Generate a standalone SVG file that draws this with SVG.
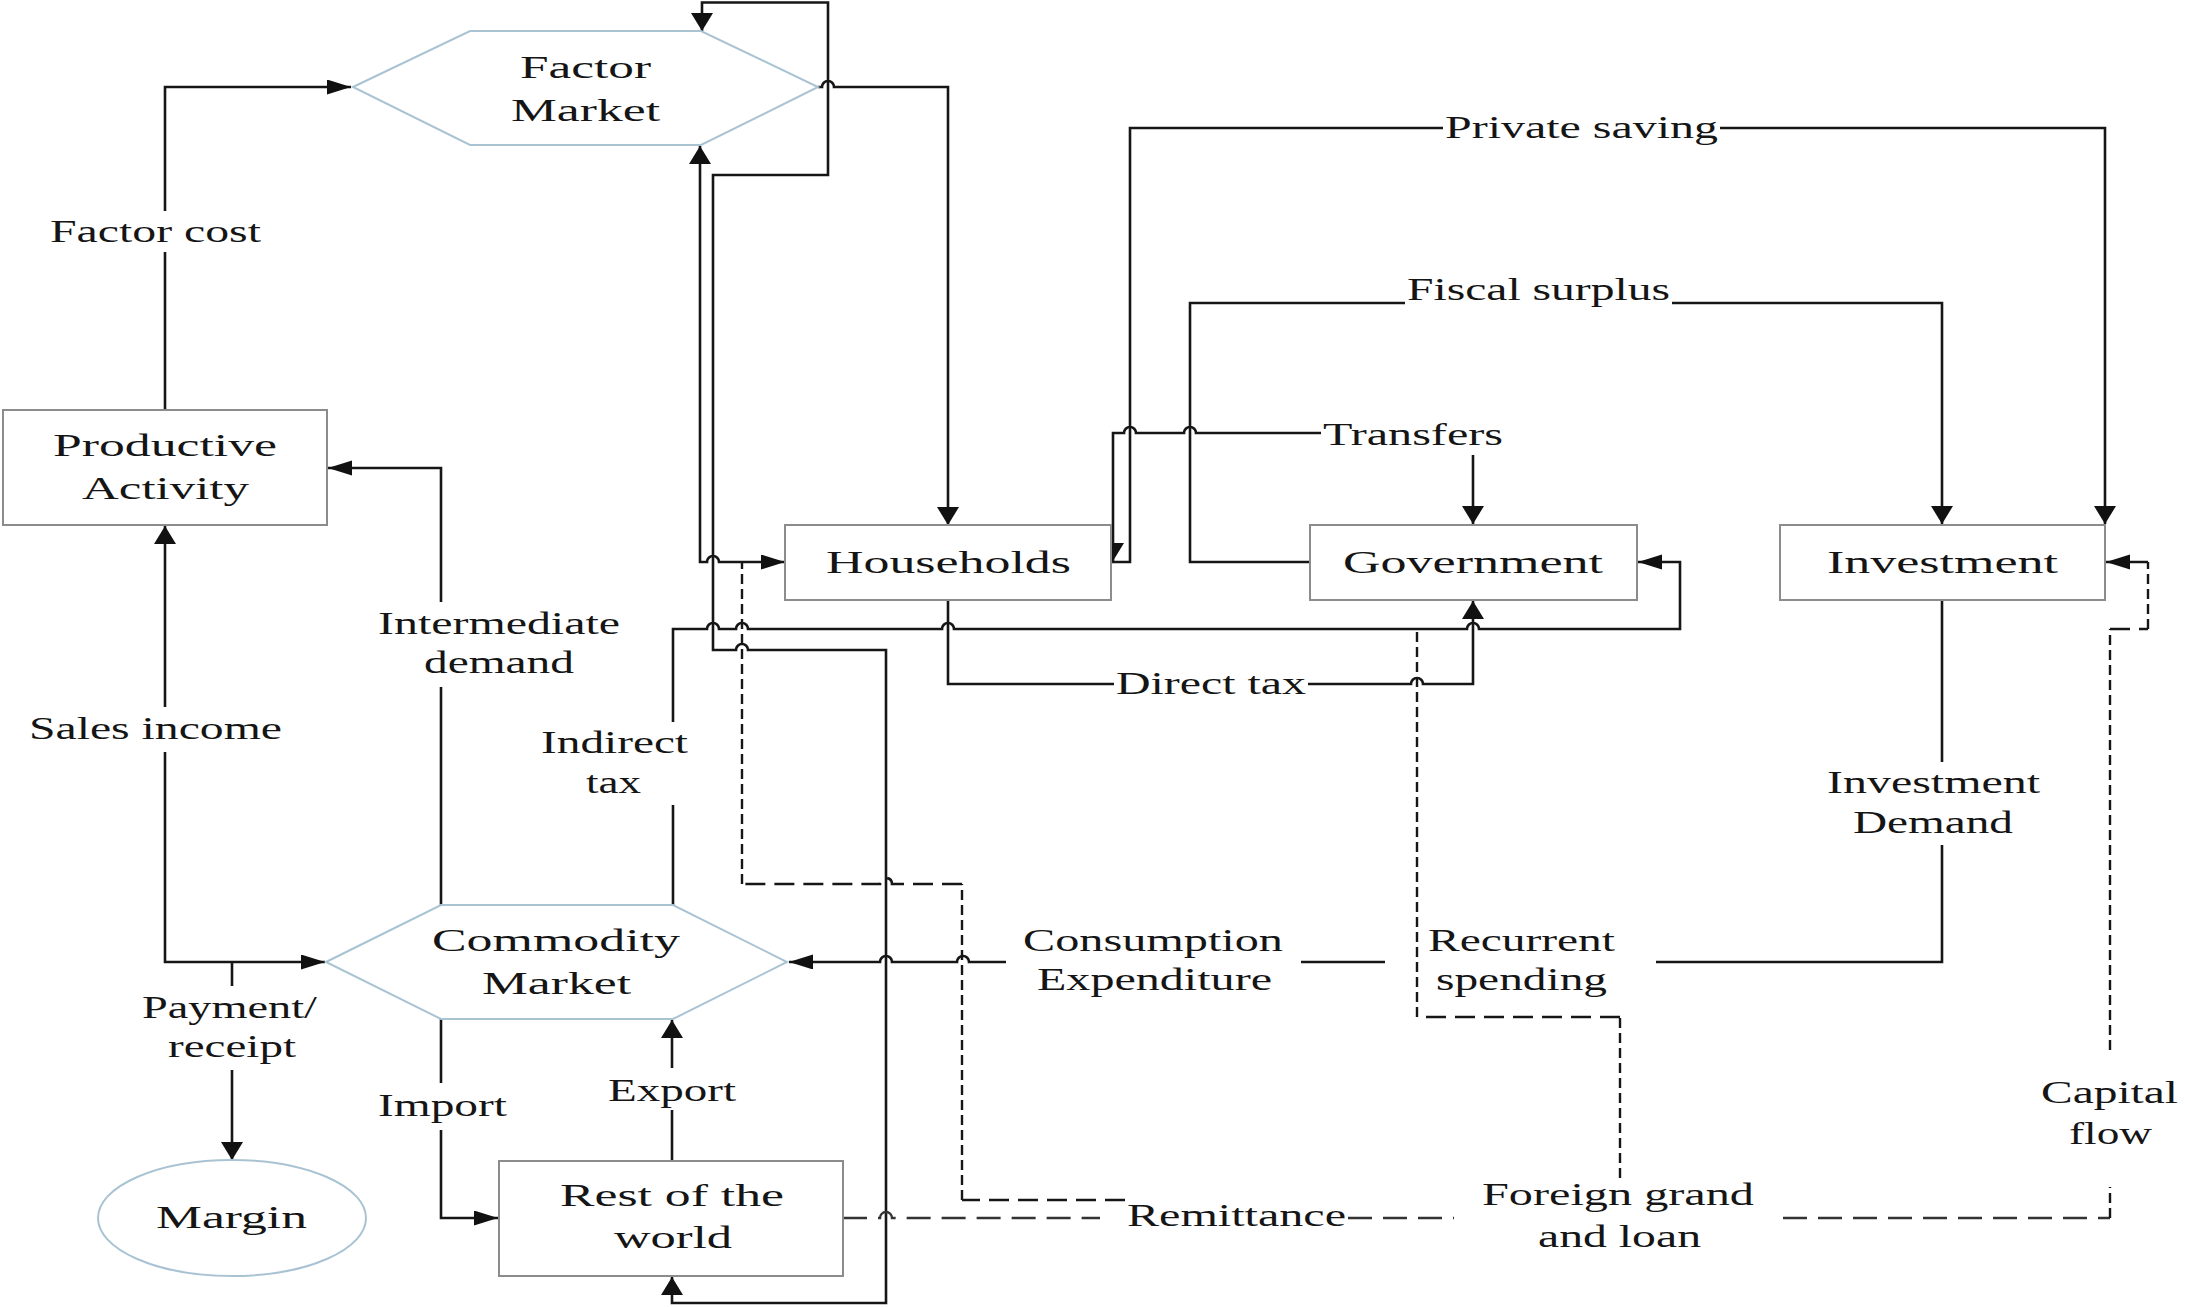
<svg xmlns="http://www.w3.org/2000/svg" width="2185" height="1307" viewBox="0 0 2185 1307">
<style>
.box{fill:#fff;stroke:#8c8c8c;stroke-width:2}
.hex{fill:#fff;stroke:#a9c3d3;stroke-width:2}
.ln{fill:none;stroke:#161616;stroke-width:2.6}
.dh{fill:none;stroke:#161616;stroke-width:2.6;stroke-dasharray:20 9}
.dv{fill:none;stroke:#161616;stroke-width:2.4;stroke-dasharray:10 5}
.dr{fill:none;stroke:#333;stroke-width:2.4;stroke-dasharray:24 11}
text{font-family:"Liberation Serif","Times New Roman",serif;font-size:31px;fill:#151515}
</style>
<defs>
<marker id="ah" markerUnits="userSpaceOnUse" markerWidth="26" markerHeight="17" refX="24" refY="7.5" orient="auto-start-reverse"><path d="M0,0 L24,7.5 L0,15 z" fill="#111"/></marker>
<marker id="av" markerUnits="userSpaceOnUse" markerWidth="20" markerHeight="24" refX="18" refY="11" orient="auto-start-reverse"><path d="M0,0 L18,11 L0,22 z" fill="#111"/></marker>
</defs>
<rect width="2185" height="1307" fill="#fff"/>

<g id="connectors">
<!-- Factor cost -->
<path class="ln" d="M165,410 L165,252"/>
<path class="ln" d="M165,211 L165,87 L351,87" marker-end="url(#ah)"/>
<text x="50" y="242" textLength="211" lengthAdjust="spacingAndGlyphs">Factor cost</text>
<!-- Factor market to households -->
<path class="ln" d="M818,87 L822,87 A6,6 0 0 1 834,87 L948,87 L948,525" marker-end="url(#av)"/>
<!-- Factor market <-> rest of world loop -->
<path class="ln" d="M702,31 L702,2.5 L828,2.5 L828,175 L713,175 L713,650 L736,650 A6,6 0 0 1 748,650 L886,650 L886,1303 L672,1303 L672,1277" marker-start="url(#av)" marker-end="url(#av)"/>
<!-- Households <-> Factor market -->
<path class="ln" d="M700,146 L700,562 L707,562 A6,6 0 0 1 719,562 L785,562" marker-start="url(#av)" marker-end="url(#ah)"/>
<!-- Intermediate demand -->
<path class="ln" d="M441,905 L441,687"/>
<path class="ln" d="M441,602 L441,468 L328,468" marker-end="url(#ah)"/>
<text x="378" y="634" textLength="242" lengthAdjust="spacingAndGlyphs">Intermediate</text>
<text x="424" y="673" textLength="150" lengthAdjust="spacingAndGlyphs">demand</text>
<!-- Sales income -->
<path class="ln" d="M165,707 L165,526" marker-end="url(#av)"/>
<path class="ln" d="M165,752 L165,962 L325,962" marker-end="url(#ah)"/>
<text x="29" y="739" textLength="253" lengthAdjust="spacingAndGlyphs">Sales income</text>
<!-- Payment/receipt -->
<path class="ln" d="M232,962 L232,986"/>
<path class="ln" d="M232,1070 L232,1160" marker-end="url(#av)"/>
<text x="142" y="1018" textLength="175" lengthAdjust="spacingAndGlyphs">Payment/</text>
<text x="168" y="1057" textLength="128" lengthAdjust="spacingAndGlyphs">receipt</text>
<!-- Import -->
<path class="ln" d="M441,1019 L441,1083"/>
<path class="ln" d="M441,1130 L441,1218 L498,1218" marker-end="url(#ah)"/>
<text x="378" y="1116" textLength="129" lengthAdjust="spacingAndGlyphs">Import</text>
<!-- Export -->
<path class="ln" d="M672,1161 L672,1110"/>
<path class="ln" d="M672,1068 L672,1020" marker-end="url(#av)"/>
<text x="608" y="1101" textLength="128" lengthAdjust="spacingAndGlyphs">Export</text>
<!-- Indirect tax -->
<path class="ln" d="M673,905 L673,805"/>
<path class="ln" d="M673,722 L673,629 L707,629 A6,6 0 0 1 719,629 L736,629 A6,6 0 0 1 748,629 L942,629 A6,6 0 0 1 954,629 L1467,629 A6,6 0 0 1 1479,629 L1680,629 L1680,562 L1638,562" marker-end="url(#ah)"/>
<text x="541" y="753" textLength="147" lengthAdjust="spacingAndGlyphs">Indirect</text>
<text x="586" y="793" textLength="55" lengthAdjust="spacingAndGlyphs">tax</text>
<!-- Direct tax -->
<path class="ln" d="M948,600 L948,684 L1114,684"/>
<path class="ln" d="M1308,684 L1411,684 A6,6 0 0 1 1423,684 L1473,684 L1473,601" marker-end="url(#av)"/>
<text x="1116" y="694" textLength="190" lengthAdjust="spacingAndGlyphs">Direct tax</text>
<!-- Transfers -->
<path class="ln" d="M1321,433 L1196,433 A6,6 0 0 0 1184,433 L1136,433 A6,6 0 0 0 1124,433 L1113,433 L1113,561" marker-end="url(#av)"/>
<path class="ln" d="M1473,455 L1473,524" marker-end="url(#av)"/>
<text x="1323" y="445" textLength="180" lengthAdjust="spacingAndGlyphs">Transfers</text>
<!-- Private saving -->
<path class="ln" d="M1111,562 L1130,562 L1130,128 L1443,128"/>
<path class="ln" d="M1720,128 L2105,128 L2105,524" marker-end="url(#av)"/>
<text x="1445" y="138" textLength="273" lengthAdjust="spacingAndGlyphs">Private saving</text>
<!-- Fiscal surplus -->
<path class="ln" d="M1310,562 L1190,562 L1190,303 L1405,303"/>
<path class="ln" d="M1672,303 L1942,303 L1942,524" marker-end="url(#av)"/>
<text x="1407" y="300" textLength="263" lengthAdjust="spacingAndGlyphs">Fiscal surplus</text>
<!-- Investment demand / consumption / recurrent spending -->
<path class="ln" d="M1942,600 L1942,762"/>
<path class="ln" d="M1942,845 L1942,962 L1656,962"/>
<path class="ln" d="M1385,962 L1301,962"/>
<path class="ln" d="M1006,962 L969,962 A6,6 0 0 0 957,962 L892,962 A6,6 0 0 0 880,962 L789,962" marker-end="url(#ah)"/>
<text x="1827" y="793" textLength="213" lengthAdjust="spacingAndGlyphs">Investment</text>
<text x="1853" y="833" textLength="160" lengthAdjust="spacingAndGlyphs">Demand</text>
<text x="1023" y="951" textLength="260" lengthAdjust="spacingAndGlyphs">Consumption</text>
<text x="1037" y="990" textLength="235" lengthAdjust="spacingAndGlyphs">Expenditure</text>
<text x="1428" y="951" textLength="187" lengthAdjust="spacingAndGlyphs">Recurrent</text>
<text x="1436" y="990" textLength="171" lengthAdjust="spacingAndGlyphs">spending</text>
<!-- Remittance (dashed) -->
<path class="dh" d="M1125,1200 L962,1200"/>
<path class="dv" d="M962,1200 L962,884"/>
<path class="dh" d="M962,884 L892,884 A6,6 0 0 0 880,884 L742,884"/>
<path class="dv" d="M742,884 L742,562"/>
<!-- Rest of world to investment, capital flow (dashed) -->
<path class="dr" d="M843,1218 L880,1218 A6,6 0 0 1 892,1218 L1100,1218"/>
<path class="dr" d="M1348,1218 L1454,1218"/>
<path class="dr" d="M1783,1218 L2110,1218"/>
<path class="dv" d="M2110,1218 L2110,1187"/>
<path class="dv" d="M2110,1050 L2110,629"/>
<path class="dh" d="M2110,629 L2148,629"/>
<path class="dv" d="M2148,629 L2148,562"/>
<path class="dh" d="M2148,562 L2106,562" marker-end="url(#ah)"/>
<text x="1127" y="1226" textLength="219" lengthAdjust="spacingAndGlyphs">Remittance</text>
<text x="2041" y="1103" textLength="137" lengthAdjust="spacingAndGlyphs">Capital</text>
<text x="2069" y="1144" textLength="83" lengthAdjust="spacingAndGlyphs">flow</text>
<!-- Foreign grand and loan (dashed) -->
<path class="dv" d="M1620,1178 L1620,1017"/>
<path class="dh" d="M1620,1017 L1417,1017"/>
<path class="dv" d="M1417,1017 L1417,630"/>
<text x="1482" y="1205" textLength="272" lengthAdjust="spacingAndGlyphs">Foreign grand</text>
<text x="1538" y="1247" textLength="163" lengthAdjust="spacingAndGlyphs">and loan</text>
</g>

<g id="factor-market">
<polygon class="hex" points="353,87 470,31 701,31 818,87 701,145 470,145"/>
<text x="520" y="78" textLength="131" lengthAdjust="spacingAndGlyphs">Factor</text>
<text x="511" y="121" textLength="149" lengthAdjust="spacingAndGlyphs">Market</text>
</g>
<g id="productive-activity">
<rect class="box" x="3" y="410" width="324" height="115"/>
<text x="53" y="456" textLength="224" lengthAdjust="spacingAndGlyphs">Productive</text>
<text x="82" y="499" textLength="167" lengthAdjust="spacingAndGlyphs">Activity</text>
</g>
<g id="households">
<rect class="box" x="785" y="525" width="326" height="75"/>
<text x="826" y="573" textLength="245" lengthAdjust="spacingAndGlyphs">Households</text>
</g>
<g id="government">
<rect class="box" x="1310" y="525" width="327" height="75"/>
<text x="1343" y="573" textLength="260" lengthAdjust="spacingAndGlyphs">Government</text>
</g>
<g id="investment">
<rect class="box" x="1780" y="525" width="325" height="75"/>
<text x="1827" y="573" textLength="231" lengthAdjust="spacingAndGlyphs">Investment</text>
</g>
<g id="commodity-market">
<polygon class="hex" points="326,962 441,905 673,905 787,962 673,1019 441,1019"/>
<text x="432" y="951" textLength="248" lengthAdjust="spacingAndGlyphs">Commodity</text>
<text x="482" y="994" textLength="149" lengthAdjust="spacingAndGlyphs">Market</text>
</g>
<g id="margin">
<ellipse class="hex" cx="232" cy="1218" rx="134" ry="58"/>
<text x="156" y="1228" textLength="151" lengthAdjust="spacingAndGlyphs">Margin</text>
</g>
<g id="rest-of-world">
<rect class="box" x="499" y="1161" width="344" height="115"/>
<text x="560" y="1206" textLength="224" lengthAdjust="spacingAndGlyphs">Rest of the</text>
<text x="614" y="1248" textLength="118" lengthAdjust="spacingAndGlyphs">world</text>
</g>
</svg>
